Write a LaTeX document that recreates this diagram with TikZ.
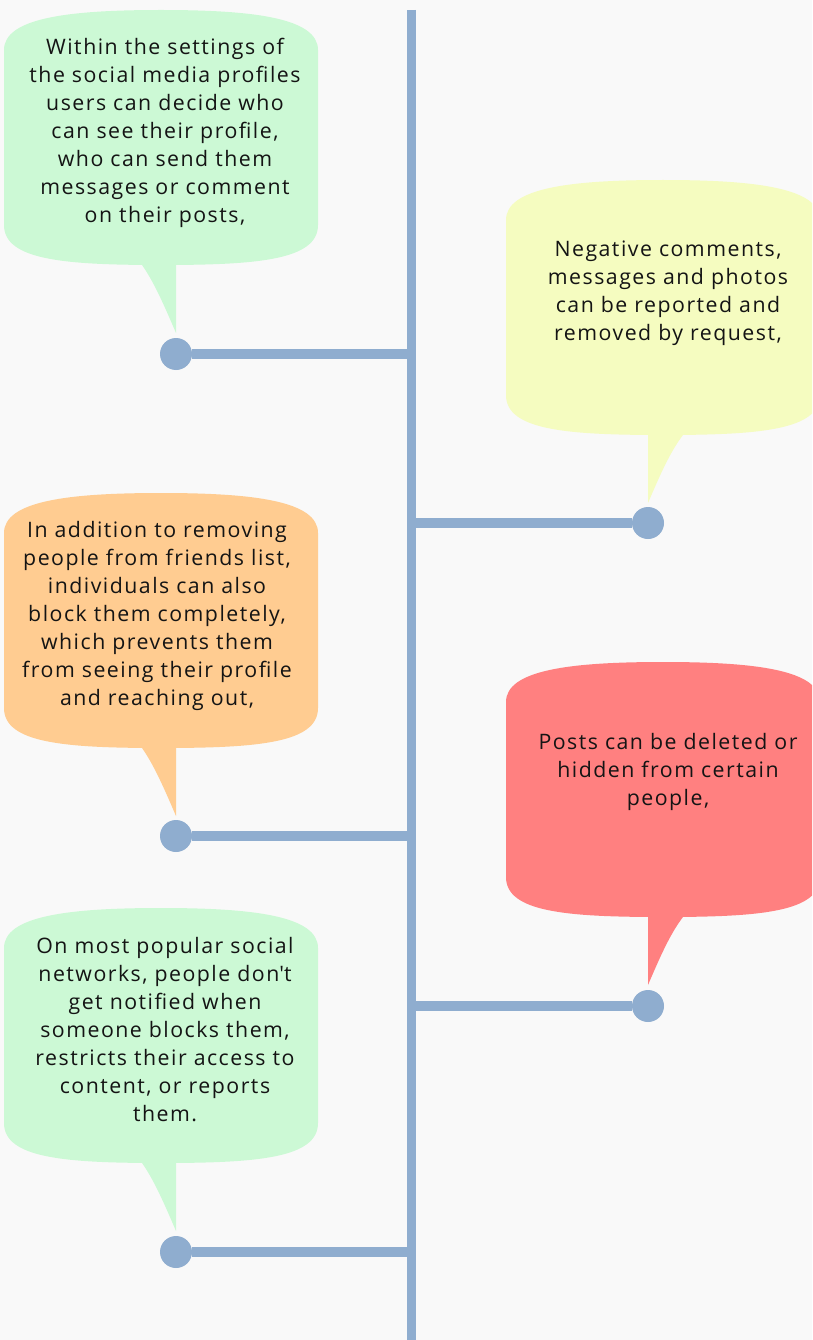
\documentclass[tikz,border=0pt]{standalone}
\usepackage{fontspec}
\setmainfont{Open Sans}[LetterSpace=7]
\usetikzlibrary{positioning}

\definecolor{bgcol}{HTML}{F9F9F9}
\definecolor{linecol}{HTML}{8FADCF}
\definecolor{bubgreen}{HTML}{CCF9D5}
\definecolor{bubyellow}{HTML}{F5FCC0}
\definecolor{buborange}{HTML}{FFCC91}
\definecolor{bubred}{HTML}{FF8080}
\definecolor{txtcol}{HTML}{141414}

\begin{document}
\begin{tikzpicture}[x=1pt, y=-1pt,
    dot/.style={circle, fill=linecol, inner sep=0pt, minimum size=32pt},
    branch/.style={linecol, line width=10pt},
    spine/.style={linecol, line width=9pt},
    bubtext/.style={align=center, text=txtcol, font=\fontsize{21.3}{28}\selectfont}]

    % Background
    \fill[bgcol] (0,0) rectangle (812,1340);
    \clip (0,0) rectangle (812,1340);

    % Bubbles on the left, tail on the right side of the tip
    \foreach \y/\c in {10/bubgreen, 493/buborange, 908/bubgreen} {
        \fill[\c, shift={(4,\y)}] (0,40) -- (0,215)
            .. controls (0,250) and (60,255) .. (157,255)
            .. controls (254,255) and (314,250) .. (314,215) -- (314,40)
            .. controls (314,8) and (250,0) .. (157,0)
            .. controls (64,0) and (0,8) .. (0,40) -- cycle;
        \fill[\c, shift={(4,\y)}] (138,250) -- (138,255)
            .. controls (150,272) and (160,295) .. (172,323) -- (172,250) -- cycle;
    }

    % Bubbles on the right, tail on the left side of the tip
    \foreach \y/\c in {180/bubyellow, 662/bubred} {
        \fill[\c, shift={(506,\y)}] (0,40) -- (0,215)
            .. controls (0,250) and (60,255) .. (157,255)
            .. controls (254,255) and (314,250) .. (314,215) -- (314,40)
            .. controls (314,8) and (250,0) .. (157,0)
            .. controls (64,0) and (0,8) .. (0,40) -- cycle;
        \fill[\c, shift={(506,\y)}] (142,250) -- (142,323)
            .. controls (154,295) and (164,272) .. (177,255) -- (177,250) -- cycle;
    }

    % Spine
    \coordinate (top) at (411,10);
    \coordinate (bottom) at (411,1340);
    \draw[spine] (top) -- (bottom);

    % Branches and dots
    \foreach \n/\x/\y in {1/176/354, 2/648/523, 3/176/836, 4/648/1006, 5/176/1252} {
        \coordinate (s\n) at (411,\y);
        \node[dot] (d\n) at (\x,\y) {};
        \draw[branch] (s\n) -- (d\n);
    }

    % Texts
    \node[bubtext] (t1) at (165,133) {Within the settings of\\the social media profiles\\users can decide who\\can see their profile,\\who can send them\\messages or comment\\on their posts,};
    \node[bubtext] (t2) at (668,293) {Negative comments,\\messages and photos\\can be reported and\\removed by request,};
    \node[bubtext] (t3) at (157,616) {In addition to removing\\people from friends list,\\individuals can also\\block them completely,\\which prevents them\\from seeing their profile\\and reaching out,};
    \node[bubtext] (t4) at (668,772) {Posts can be deleted or\\hidden from certain\\people,};
    \node[bubtext] (t5) at (165,1030) {On most popular social\\networks, people don\textquotesingle t\\get notified when\\someone blocks them,\\restricts their access to\\content, or reports\\them.};

\end{tikzpicture}
\end{document}
